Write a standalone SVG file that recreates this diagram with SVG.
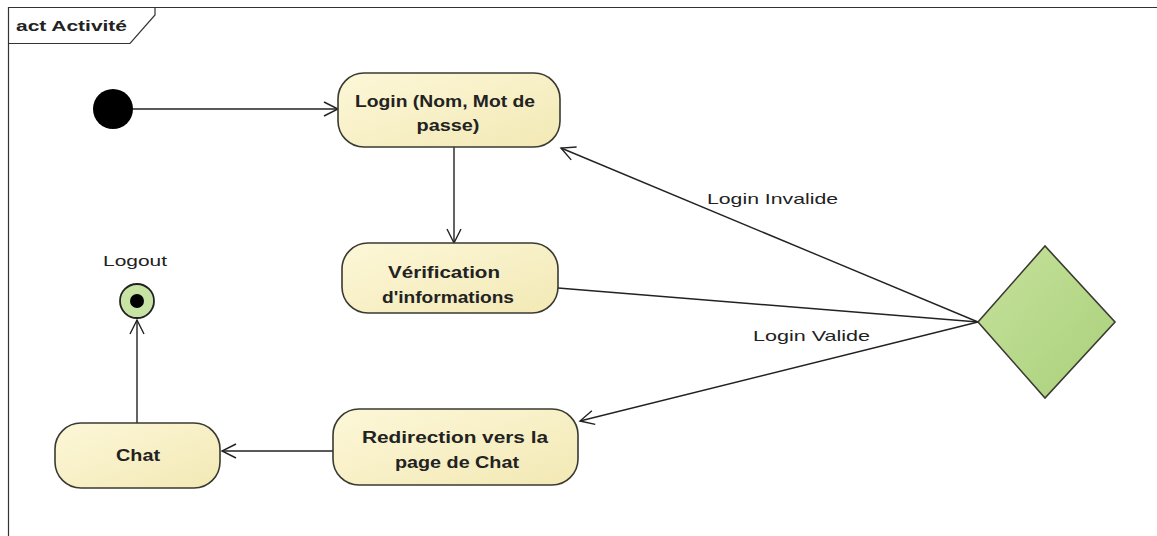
<svg xmlns="http://www.w3.org/2000/svg" width="1157" height="536" viewBox="0 0 1157 536">
<style>
.node{stroke:#3a3a32;stroke-width:1.6;fill:url(#yel)}
.t{font-family:"Liberation Sans",Arial,sans-serif;font-weight:bold;font-size:16px;fill:#222;text-anchor:middle}
.lbl{font-family:"Liberation Sans",Arial,sans-serif;font-size:15px;fill:#222}
.edge{stroke:#222;stroke-width:1.4;fill:none}
</style>
<defs>
<linearGradient id="yel" x1="0" y1="0" x2="1" y2="1">
<stop offset="0" stop-color="#fcf7d8"/>
<stop offset="1" stop-color="#f3e9b5"/>
</linearGradient>
<linearGradient id="grn" x1="0" y1="0" x2="1" y2="1">
<stop offset="0" stop-color="#c6e29c"/>
<stop offset="1" stop-color="#a9d07a"/>
</linearGradient>
<marker id="arr" markerUnits="userSpaceOnUse" markerWidth="20" markerHeight="20" refX="15" refY="8" orient="auto">
<path d="M1,1 L15,8 L1,15" fill="none" stroke="#222" stroke-width="1.4"/>
</marker>
</defs>
<rect width="1157" height="536" fill="#fff"/>
<g id="frame">
<path d="M8.5,536 V7.5 H1157" fill="none" stroke="#333" stroke-width="1.2"/>
<path d="M8.5,43.5 H130 L155,15 V7.5" fill="none" stroke="#333" stroke-width="1.2"/>
<text x="16" y="31" class="lbl" style="font-weight:bold" textLength="111" lengthAdjust="spacingAndGlyphs">act Activité</text>
</g>
<g id="connectors">
<line class="edge" x1="133" y1="109" x2="338" y2="109" marker-end="url(#arr)"/>
<line class="edge" x1="454" y1="147" x2="454" y2="243" marker-end="url(#arr)"/>
<line class="edge" x1="558" y1="288" x2="978" y2="322"/>
<line class="edge" x1="978" y1="322" x2="561" y2="148" marker-end="url(#arr)"/>
<line class="edge" x1="978" y1="322" x2="580" y2="421" marker-end="url(#arr)"/>
<line class="edge" x1="333" y1="451" x2="222" y2="451" marker-end="url(#arr)"/>
<line class="edge" x1="137" y1="423" x2="137" y2="320" marker-end="url(#arr)"/>
<text class="lbl" x="707" y="204" textLength="131" lengthAdjust="spacingAndGlyphs">Login Invalide</text>
<text class="lbl" x="753" y="341" textLength="117" lengthAdjust="spacingAndGlyphs">Login Valide</text>
</g>
<g id="initial">
<circle cx="113" cy="109" r="20" fill="#000"/>
</g>
<g id="login">
<rect class="node" x="338" y="73" width="222" height="74" rx="26"/>
<text class="t" x="445" y="107" textLength="180" lengthAdjust="spacingAndGlyphs">Login (Nom, Mot de</text>
<text class="t" x="448" y="131" textLength="63" lengthAdjust="spacingAndGlyphs">passe)</text>
</g>
<g id="verification">
<rect class="node" x="342" y="243" width="216" height="70" rx="26"/>
<text class="t" x="444" y="278" textLength="112" lengthAdjust="spacingAndGlyphs">Vérification</text>
<text class="t" x="448" y="303" textLength="132" lengthAdjust="spacingAndGlyphs">d'informations</text>
</g>
<g id="decision">
<polygon points="978,322 1045,246 1115,322 1045,398" fill="url(#grn)" stroke="#3a3a32" stroke-width="1.6"/>
</g>
<g id="redirection">
<rect class="node" x="333" y="409" width="245" height="76" rx="26"/>
<text class="t" x="455" y="443" textLength="186" lengthAdjust="spacingAndGlyphs">Redirection vers la</text>
<text class="t" x="457" y="468" textLength="124" lengthAdjust="spacingAndGlyphs">page de Chat</text>
</g>
<g id="chat">
<rect class="node" x="55" y="423" width="165" height="65" rx="26"/>
<text class="t" x="138" y="461" textLength="44" lengthAdjust="spacingAndGlyphs">Chat</text>
</g>
<g id="logout">
<text class="lbl" x="135" y="266" text-anchor="middle" textLength="64" lengthAdjust="spacingAndGlyphs">Logout</text>
<circle cx="137" cy="301" r="17" fill="#c8e4a4" stroke="#222" stroke-width="1.8"/>
<circle cx="137" cy="301" r="7" fill="#000"/>
</g>
</svg>
